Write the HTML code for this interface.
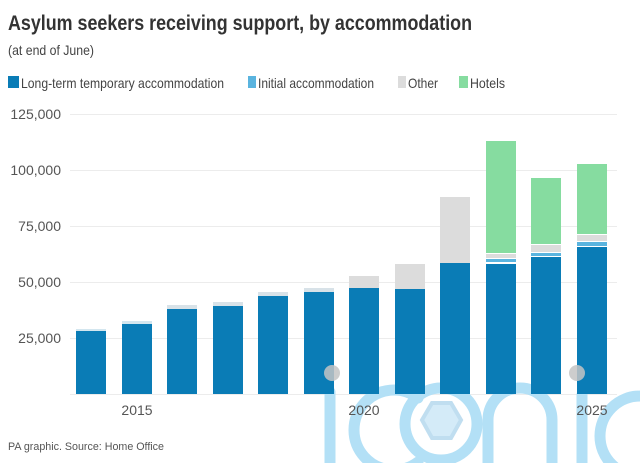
<!DOCTYPE html>
<html><head><meta charset="utf-8"><style>
html,body{margin:0;padding:0;background:#fff;}
svg{display:block;font-family:"Liberation Sans",sans-serif;}
</style></head><body>
<svg width="640" height="463" viewBox="0 0 640 463" xmlns="http://www.w3.org/2000/svg">
<rect width="640" height="463" fill="#fff"/>
<text x="8" y="30" font-size="21" font-weight="bold" fill="#333" textLength="464" lengthAdjust="spacingAndGlyphs">Asylum seekers receiving support, by accommodation</text>
<text x="8" y="55" font-size="14" fill="#444" textLength="86" lengthAdjust="spacingAndGlyphs">(at end of June)</text>
<rect x="8" y="76" width="11" height="12" fill="#0a7cb6"/>
<text x="21" y="88" font-size="14" fill="#444" textLength="203" lengthAdjust="spacingAndGlyphs">Long-term temporary accommodation</text>
<rect x="248" y="76" width="8" height="12" fill="#5ab4df"/>
<text x="258" y="88" font-size="14" fill="#444" textLength="116" lengthAdjust="spacingAndGlyphs">Initial accommodation</text>
<rect x="398" y="76" width="8" height="12" fill="#dcdcdc"/>
<text x="408" y="88" font-size="14" fill="#444" textLength="30" lengthAdjust="spacingAndGlyphs">Other</text>
<rect x="459" y="76" width="9" height="12" fill="#86dca0"/>
<text x="470" y="88" font-size="14" fill="#444" textLength="35" lengthAdjust="spacingAndGlyphs">Hotels</text>
<g stroke="#ececec" stroke-width="1">
<line x1="70" y1="114.5" x2="617" y2="114.5"/>
<line x1="70" y1="170.5" x2="617" y2="170.5"/>
<line x1="70" y1="226.5" x2="617" y2="226.5"/>
<line x1="70" y1="282.5" x2="617" y2="282.5"/>
<line x1="70" y1="338.5" x2="617" y2="338.5"/>
<line x1="70" y1="394.5" x2="617" y2="394.5"/>
</g>
<g font-size="14" fill="#555" text-anchor="end">
<text x="61" y="119">125,000</text>
<text x="61" y="175">100,000</text>
<text x="61" y="231">75,000</text>
<text x="61" y="287">50,000</text>
<text x="61" y="343">25,000</text>
</g>
<!-- watermark (under bars) -->
<g fill="none" stroke="#b3e0f6" stroke-width="11" stroke-linecap="round">
<line x1="330" y1="392" x2="330" y2="470"/>
<path d="M418 398 A40 40 0 1 0 418 462"/>
<circle cx="441" cy="424" r="36"/>
<path d="M488 470 L488 420 A32 32 0 0 1 552 420 L552 470"/>
<line x1="582" y1="395" x2="582" y2="470"/>
<path d="M660 400 A40 40 0 0 0 640 396 A40 40 0 0 0 640 476"/>
</g>
<polygon points="432,403 451,403 461,420 451,438 432,438 422,420" fill="#d4ebf8" stroke="#c0def0" stroke-width="4"/>
<g>
<rect x="76" y="329" width="30" height="3" fill="#d3e6ef"/><rect x="76" y="331" width="30" height="63" fill="#0a7cb6"/>
<rect x="122" y="321" width="30" height="3" fill="#d3e6ef"/><rect x="122" y="324" width="30" height="70" fill="#0a7cb6"/>
<rect x="167" y="305" width="30" height="4" fill="#d8e2e8"/><rect x="167" y="309" width="30" height="85" fill="#0a7cb6"/>
<rect x="213" y="302" width="30" height="4" fill="#d8e2e8"/><rect x="213" y="306" width="30" height="88" fill="#0a7cb6"/>
<rect x="258" y="292" width="30" height="4" fill="#d8e2e8"/><rect x="258" y="296" width="30" height="98" fill="#0a7cb6"/>
<rect x="304" y="288" width="30" height="4" fill="#d8e2e8"/><rect x="304" y="292" width="30" height="102" fill="#0a7cb6"/>
<rect x="349" y="276" width="30" height="12" fill="#dcdcdc"/><rect x="349" y="288" width="30" height="106" fill="#0a7cb6"/>
<rect x="395" y="264" width="30" height="25" fill="#dcdcdc"/><rect x="395" y="289" width="30" height="105" fill="#0a7cb6"/>
<rect x="440" y="197" width="30" height="66" fill="#dcdcdc"/><rect x="440" y="263" width="30" height="131" fill="#0a7cb6"/>
<rect x="486" y="141" width="30" height="112" fill="#86dca0"/><rect x="486" y="254" width="30" height="4" fill="#dcdcdc"/><rect x="486" y="259" width="30" height="3" fill="#5ab4df"/><rect x="486" y="264" width="30" height="130" fill="#0a7cb6"/>
<rect x="531" y="178" width="30" height="66" fill="#86dca0"/><rect x="531" y="245" width="30" height="7" fill="#dcdcdc"/><rect x="531" y="253" width="30" height="3" fill="#5ab4df"/><rect x="531" y="257" width="30" height="137" fill="#0a7cb6"/>
<rect x="577" y="164" width="30" height="70" fill="#86dca0"/><rect x="577" y="235" width="30" height="6" fill="#dcdcdc"/><rect x="577" y="242" width="30" height="4" fill="#5ab4df"/><rect x="577" y="247" width="30" height="147" fill="#0a7cb6"/>
</g>
<circle cx="332" cy="373" r="8" fill="#c4c4c4" opacity="0.85"/>
<circle cx="577" cy="373" r="8" fill="#c4c4c4" opacity="0.85"/>
<g font-size="14" fill="#555" text-anchor="middle">
<text x="137" y="415">2015</text>
<text x="364" y="415">2020</text>
<text x="592" y="415">2025</text>
</g>
<text x="8" y="450" font-size="11" fill="#555" textLength="156" lengthAdjust="spacingAndGlyphs">PA graphic. Source: Home Office</text>
</svg>
</body></html>
